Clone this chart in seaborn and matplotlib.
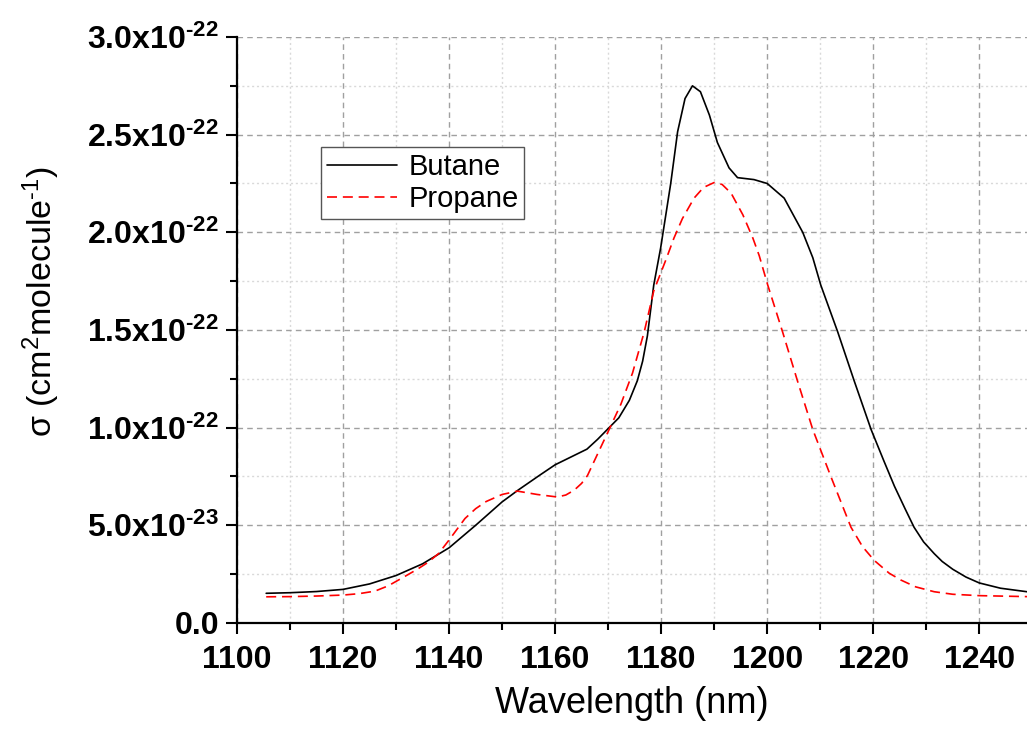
import numpy as np
import pandas as pd
import matplotlib
matplotlib.use("Agg")
import matplotlib.pyplot as plt
from matplotlib.ticker import MultipleLocator, FuncFormatter
import seaborn as sns

# wavelength (nm) and cross sections (units of 1e-22 cm^2 molecule^-1)
butane_nm = [1105.5, 1110, 1115, 1120, 1125, 1130, 1135, 1140, 1145, 1150, 1153, 1157,
             1160, 1163, 1166, 1168, 1170, 1172, 1174, 1175.5, 1176.5, 1177.4, 1178.6,
             1179.9, 1181.8, 1183.1, 1184.5, 1185.9, 1187.4, 1189.1, 1190.6, 1192.8,
             1194.4, 1197.5, 1200, 1203.2, 1206.7, 1208.6, 1210.1, 1213.3, 1216.4,
             1219.6, 1222, 1224, 1226, 1227.7, 1229.5, 1231.5, 1233, 1235, 1237.5,
             1240, 1244, 1249]
butane_xs = [0.152, 0.155, 0.161, 0.172, 0.200, 0.243, 0.303, 0.385, 0.50, 0.62, 0.68, 0.755,
             0.81, 0.85, 0.89, 0.94, 0.995, 1.05, 1.14, 1.24, 1.34, 1.47, 1.73,
             1.92, 2.25, 2.515, 2.685, 2.75, 2.72, 2.60, 2.46, 2.33,
             2.28, 2.27, 2.25, 2.175, 2.0, 1.87, 1.73, 1.49, 1.24,
             0.99, 0.83, 0.70, 0.585, 0.49, 0.415, 0.355, 0.315, 0.275, 0.235,
             0.205, 0.178, 0.16]

propane_nm = [1105.5, 1110, 1115, 1120, 1123, 1126, 1128.5, 1131.5, 1134, 1136, 1138,
              1140, 1141.5, 1143, 1145, 1147, 1150, 1152.9, 1156.6, 1160.4, 1162, 1163.6,
              1165, 1166.1, 1168, 1170, 1172.4, 1174.6, 1176.8, 1178.6, 1180.9, 1182.4,
              1184, 1186.2, 1188, 1190, 1191.5, 1193.2, 1195.4, 1197.3, 1198.5, 1200.1,
              1202.9, 1205.7, 1208.6, 1212, 1215.8, 1218, 1220.2, 1223, 1225.2, 1228,
              1231.5, 1235, 1240, 1249]
propane_xs = [0.134, 0.135, 0.138, 0.143, 0.150, 0.163, 0.19, 0.236, 0.275, 0.31, 0.355,
              0.425, 0.48, 0.535, 0.585, 0.622, 0.658, 0.675, 0.658, 0.645, 0.655, 0.68,
              0.715, 0.755, 0.865, 0.98, 1.12, 1.28, 1.49, 1.70, 1.86, 1.97,
              2.07, 2.175, 2.23, 2.255, 2.245, 2.2, 2.09, 1.97, 1.88, 1.73,
              1.49, 1.24, 0.99, 0.75, 0.49, 0.39, 0.32, 0.255, 0.22, 0.185,
              0.16, 0.147, 0.14, 0.135]

SCALE = 1e-22

sns.set_theme(style="white")
plt.rcParams['font.family'] = ['Liberation Sans', 'DejaVu Sans']
plt.rcParams['mathtext.default'] = 'regular'
plt.rcParams['text.color'] = 'black'
plt.rcParams['axes.labelcolor'] = 'black'
plt.rcParams['xtick.color'] = 'black'
plt.rcParams['ytick.color'] = 'black'

butane = pd.DataFrame({'nm': butane_nm, 'xs': np.array(butane_xs) * SCALE})
propane = pd.DataFrame({'nm': propane_nm, 'xs': np.array(propane_xs) * SCALE})

fig, ax = plt.subplots(figsize=(10.27, 7.37), dpi=100)
fig.subplots_adjust(left=0.2308, right=1.0, bottom=0.1547, top=0.9498)

sns.lineplot(data=butane, x='nm', y='xs', color='black', lw=1.2,
             label='Butane', ax=ax)
sns.lineplot(data=propane, x='nm', y='xs', color='red', lw=1.2,
             label='Propane', ax=ax)
ax.lines[1].set_linestyle((0, (6, 3.5)))

ax.set_xticks(np.arange(1100, 1241, 20))
ax.set_yticks(np.arange(0, 3.01, 0.5) * SCALE)
ax.xaxis.set_minor_locator(MultipleLocator(10))
ax.yaxis.set_minor_locator(MultipleLocator(0.25e-22))
ax.set_xlim(1100, 1249)
ax.set_ylim(0, 3.0e-22)


def sci_fmt(v, pos):
    if abs(v) < 1e-30:
        return '0.0'
    exp = int(np.floor(np.log10(abs(v))))
    mant = v / 10 ** exp
    return f'{mant:.1f}x10$^{{\u2010{abs(exp)}}}$'


ax.yaxis.set_major_formatter(FuncFormatter(sci_fmt))

ax.grid(which='major', color='#a0a0a0', linestyle=(0, (4, 3)), lw=1.0)
ax.grid(which='minor', color='#d9d9d9', linestyle=(0, (1.5, 2)), lw=1.0)
ax.set_axisbelow(True)

for side in ['top', 'right']:
    ax.spines[side].set_visible(False)
for side in ['left', 'bottom']:
    ax.spines[side].set_color('black')
    ax.spines[side].set_linewidth(1.6)

ax.tick_params(which='major', direction='out', length=8, width=1.5, color='black',
               left=True, bottom=True, labelsize=23, pad=5)
ax.tick_params(axis='x', which='major', pad=8)
ax.tick_params(which='minor', direction='out', length=5, width=1.5, color='black',
               left=True, bottom=True)
for lab in ax.get_xticklabels() + ax.get_yticklabels():
    lab.set_fontweight('bold')

ax.set_xlabel('Wavelength (nm)', fontsize=26, labelpad=8)
ax.set_ylabel('σ (cm$^{2}$molecule$^{\u20101}$)', fontsize=24.5)
ax.yaxis.set_label_coords(-0.221, 0.548)

leg = ax.legend(loc='upper left', bbox_to_anchor=(0.106, 0.812), borderaxespad=0,
                fontsize=21, handlelength=2.4, handletextpad=0.4, borderpad=0.2,
                labelspacing=0.15, fancybox=False, framealpha=1, edgecolor='#555555')
leg.get_frame().set_linewidth(1.0)

plt.savefig('out.png', dpi=100)
